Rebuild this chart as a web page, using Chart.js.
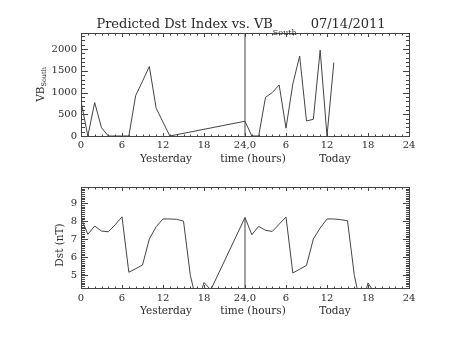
<!DOCTYPE html>
<html>
<head>
<meta charset="utf-8">
<script src="https://cdn.jsdelivr.net/npm/chart.js@4.4.1/dist/chart.umd.min.js"></script>
<style>
  body { margin: 0; background: #fff; }
  canvas { position: absolute; left: 0; }
  #vb { top: 0; }
  #dst { top: 170px; }
</style>
</head>
<body>
<canvas id="vb" width="453" height="170"></canvas>
<canvas id="dst" width="453" height="170"></canvas>
<script>
// hours counted from the start of yesterday: 0-24 yesterday, 24-48 today
const vbHours = [0, 1, 2, 3, 4, 5, 6, 7, 8, 9, 10, 11, 12, 13,
                 24, 25, 26, 27, 28, 29, 30, 31, 32, 33, 34, 35, 36, 37];
const vbValues = [800, 0, 770, 190, 0, 0, 0, 0, 930, 1260, 1600, 640, 320, 0,
                  340, 0, 0, 890, 1000, 1175, 180, 1200, 1840, 345, 385, 1975, 0, 1690];

const dstHours = [0, 1, 2, 3, 4, 5, 6, 7, 8, 9, 10, 11, 12, 13, 14, 15, 16, 17, 18, 19,
                  24, 25, 26, 27, 28, 29, 30, 31, 32, 33, 34, 35, 36, 37, 38, 39, 40, 41, 42, 43];
const dstValues = [8.19, 7.27, 7.73, 7.45, 7.41, 7.8, 8.24, 5.17, 5.37, 5.57,
                   7.01, 7.69, 8.12, 8.12, 8.1, 8.0, 5.0, 3.4, 4.6, 4.2,
                   8.2, 7.25, 7.71, 7.49, 7.43, 7.83, 8.23, 5.13, 5.34, 5.55,
                   7.01, 7.62, 8.12, 8.12, 8.08, 8.02, 5.0, 3.2, 4.58, 4.0];

const hourTicks = [0, 6, 12, 18, 24, 30, 36, 42, 48];
const hourLabels = ['0', '6', '12', '18', '24,0', '6', '12', '18', '24'];
const vbTicks = [0, 500, 1000, 1500, 2000];
const dstTicks = [5, 6, 7, 8, 9];

const midnight = 24;
const vbMax = Math.max(...vbValues) * 1.2;
const dstMin = 4.3;
const dstMax = Math.max(...dstValues) * 1.2;

const FONT = '"DejaVu Serif", "Liberation Serif", serif';
const INK = '#2a2a2a';
const LINE = '#444';

// draws a run of text pieces (with subscripts) centred on cx
function drawRich(ctx, parts, cx, base) {
  const widths = parts.map(p => {
    ctx.font = p.size + 'px ' + FONT;
    return (p.text ? ctx.measureText(p.text).width : 0) + (p.gap || 0);
  });
  let x = cx - widths.reduce((s, w) => s + w, 0) / 2;
  ctx.textAlign = 'left';
  ctx.textBaseline = 'alphabetic';
  parts.forEach((p, i) => {
    ctx.font = p.size + 'px ' + FONT;
    if (p.text) ctx.fillText(p.text, x, base + (p.dy || 0));
    x += widths[i];
  });
}

// box frame with inward ticks on all four sides, plus titles
function idlAxes(cfg) {
  return {
    id: 'idlAxes',
    afterDatasetsDraw(chart) {
      const { ctx, chartArea: a, scales: { x, y } } = chart;
      ctx.save();
      ctx.strokeStyle = LINE;
      ctx.lineWidth = 1;
      ctx.strokeRect(a.left + 0.5, a.top + 0.5, a.width, a.height);

      ctx.beginPath();
      for (let h = x.min; h <= x.max; h++) {
        const px = Math.round(x.getPixelForValue(h)) + 0.5;
        const len = h % 6 === 0 ? 3 : 1.5;
        ctx.moveTo(px, a.bottom); ctx.lineTo(px, a.bottom - len);
        ctx.moveTo(px, a.top + 1); ctx.lineTo(px, a.top + 1 + len);
      }
      const n0 = Math.ceil(y.min / cfg.minor - 1e-6);
      const n1 = Math.floor(y.max / cfg.minor + 1e-6);
      for (let i = n0; i <= n1; i++) {
        const py = Math.round(y.getPixelForValue(i * cfg.minor)) + 0.5;
        const len = i % cfg.perMajor === 0 ? 6 : 3;
        ctx.moveTo(a.left + 1, py); ctx.lineTo(a.left + 1 + len, py);
        ctx.moveTo(a.right, py); ctx.lineTo(a.right - len, py);
      }
      ctx.stroke();

      ctx.fillStyle = INK;
      if (cfg.title) drawRich(ctx, cfg.title, 241, 28);

      ctx.save();
      ctx.translate(cfg.yTitleX, cfg.yTitleY);
      ctx.rotate(-Math.PI / 2);
      drawRich(ctx, cfg.yTitle, 0, 0);
      ctx.restore();

      const notes = [['Yesterday', 166], ['time (hours)', 253], ['Today', 335]];
      notes.forEach(([t, cx]) => drawRich(ctx, [{ text: t, size: 10.5 }], cx, cfg.notesY));
      ctx.restore();
    }
  };
}

function lineSet(data) {
  return { data, borderColor: LINE, borderWidth: 1, pointRadius: 0, tension: 0 };
}

function hourAxis(height, pad) {
  return {
    type: 'linear', min: 0, max: 48,
    grid: { display: false, drawTicks: false },
    border: { display: false },
    afterBuildTicks: s => { s.ticks = hourTicks.map(v => ({ value: v })); },
    afterFit: s => { s.height = height; },
    ticks: {
      autoSkip: false, maxRotation: 0, padding: pad, color: INK,
      font: { family: FONT, size: 10 },
      callback: (v, i) => hourLabels[i]
    }
  };
}

function valueAxis(min, max, ticks) {
  return {
    type: 'linear', min, max,
    grid: { display: false, drawTicks: false },
    border: { display: false },
    afterBuildTicks: s => { s.ticks = ticks.map(v => ({ value: v })); },
    afterFit: s => { s.width = 81; },
    ticks: {
      padding: 4, color: INK, font: { family: FONT, size: 10 },
      callback: v => String(v)
    }
  };
}

const common = {
  responsive: false,
  animation: false,
  plugins: { legend: { display: false }, tooltip: { enabled: false } }
};

new Chart(document.getElementById('vb'), {
  type: 'line',
  data: {
    datasets: [
      lineSet(vbHours.map((h, i) => ({ x: h, y: vbValues[i] }))),
      lineSet([{ x: midnight, y: 0 }, { x: midnight, y: vbMax }])
    ]
  },
  options: {
    ...common,
    layout: { padding: { top: 33, right: 44, left: 0, bottom: 0 } },
    scales: { x: hourAxis(34, 3), y: valueAxis(0, vbMax, vbTicks) }
  },
  plugins: [idlAxes({
    minor: 100, perMajor: 5,
    title: [
      { text: 'Predicted Dst Index vs. VB', size: 13 },
      { text: 'South', size: 8, dy: 7 },
      { gap: 14 },
      { text: '07/14/2011', size: 13 }
    ],
    yTitle: [{ text: 'VB', size: 10.5 }, { text: 'South', size: 6.5, dy: 1.5 }],
    yTitleX: 44, yTitleY: 84.5,
    notesY: 161.5
  })]
});

new Chart(document.getElementById('dst'), {
  type: 'line',
  data: {
    datasets: [
      lineSet(dstHours.map((h, i) => ({ x: h, y: dstValues[i] }))),
      lineSet([{ x: midnight, y: dstMin }, { x: midnight, y: dstValues[dstHours.indexOf(midnight)] }])
    ]
  },
  options: {
    ...common,
    layout: { padding: { top: 17, right: 44, left: 0, bottom: 0 } },
    scales: { x: hourAxis(52, 4), y: valueAxis(dstMin, dstMax, dstTicks) }
  },
  plugins: [idlAxes({
    minor: 0.1, perMajor: 10,
    yTitle: [{ text: 'Dst (nT)', size: 10.5 }],
    yTitleX: 63, yTitleY: 75,
    notesY: 144
  })]
});
</script>
</body>
</html>
